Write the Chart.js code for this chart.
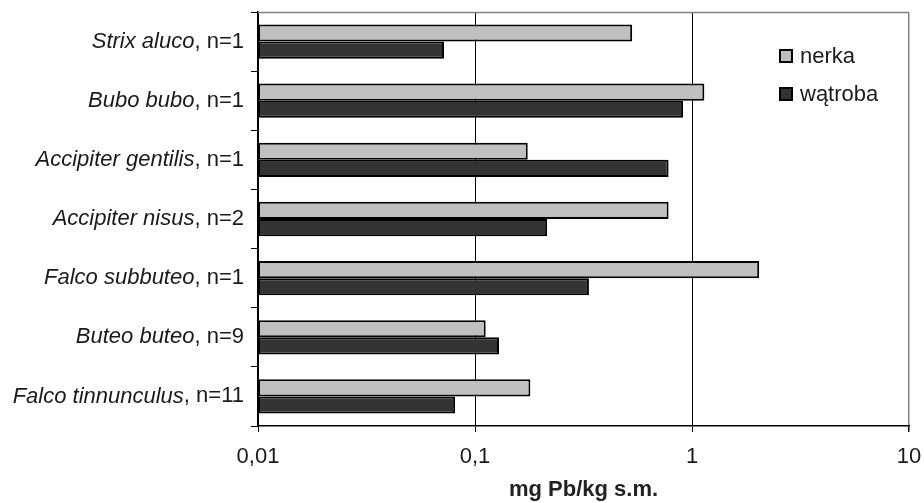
<!DOCTYPE html>
<html>
<head>
<meta charset="utf-8">
<script src="https://cdn.jsdelivr.net/npm/chart.js@4/dist/chart.umd.min.js"></script>
<style>
  html, body { margin: 0; padding: 0; background: #fff; }
  #wrap { width: 924px; height: 503px; }
</style>
</head>
<body>
<div id="wrap"><canvas id="chartPb"></canvas></div>
<script>
const species = ["Strix aluco", "Bubo bubo", "Accipiter gentilis", "Accipiter nisus",
                 "Falco subbuteo", "Buteo buteo", "Falco tinnunculus"];
const sampleSizes = [1, 1, 1, 2, 1, 9, 11];
const nerka = [0.53, 1.14, 0.175, 0.78, 2.04, 0.112, 0.18];
const watroba = [0.072, 0.91, 0.78, 0.215, 0.335, 0.129, 0.081];
const xTicks = [0.01, 0.1, 1, 10];
const seriesNames = ["nerka", "wątroba"];
const seriesColors = ["#c0c0c0", "#333333"];

const fontFamily = "'Liberation Sans', Arial, sans-serif";
const textColor = "#1a1a1a";

// labels with italic species name and plain ", n=.."
const speciesLabels = {
    id: "speciesLabels",
    afterDraw(chart) {
        const ctx = chart.ctx;
        const yScale = chart.scales.y;
        const right = yScale.right - 14;
        ctx.save();
        ctx.fillStyle = textColor;
        ctx.textBaseline = "middle";
        ctx.textAlign = "right";
        species.forEach((name, i) => {
            const y = yScale.getPixelForValue(i);
            const suffix = ", n=" + sampleSizes[i];
            ctx.font = "22px " + fontFamily;
            ctx.fillText(suffix, right, y);
            const w = ctx.measureText(suffix).width;
            ctx.font = "italic 22px " + fontFamily;
            ctx.fillText(name, right - w, y);
        });
        ctx.restore();
    }
};

// top border of plot area and legend inside it
const frameAndLegend = {
    id: "frameAndLegend",
    afterDraw(chart) {
        const ctx = chart.ctx;
        const area = chart.chartArea;
        ctx.save();
        ctx.strokeStyle = "#808080";
        ctx.lineWidth = 1.5;
        ctx.beginPath();
        ctx.moveTo(area.left, area.top + 0.5);
        ctx.lineTo(area.right, area.top + 0.5);
        ctx.stroke();

        ctx.font = "22px " + fontFamily;
        ctx.textBaseline = "middle";
        ctx.textAlign = "left";
        seriesNames.forEach((name, i) => {
            const y = 56 + i * 38;
            ctx.fillStyle = seriesColors[i];
            ctx.fillRect(780, y - 6, 12, 12);
            ctx.strokeStyle = "#000";
            ctx.lineWidth = 2;
            ctx.strokeRect(780, y - 6, 12, 12);
            ctx.fillStyle = textColor;
            ctx.fillText(name, 800, y + 1);
        });
        ctx.restore();
    }
};

new Chart(document.getElementById("chartPb"), {
    type: "bar",
    data: {
        labels: species,
        datasets: [
            {
                label: seriesNames[0],
                data: nerka,
                backgroundColor: seriesColors[0],
                borderColor: "#000",
                borderWidth: 2,
                borderSkipped: false
            },
            {
                label: seriesNames[1],
                data: watroba,
                backgroundColor: seriesColors[1],
                borderColor: "#000",
                borderWidth: 2,
                borderSkipped: false
            }
        ]
    },
    options: {
        indexAxis: "y",
        responsive: true,
        maintainAspectRatio: false,
        animation: false,
        layout: { padding: { top: 12, right: 15, left: 0, bottom: 0 } },
        datasets: { bar: { categoryPercentage: 0.58, barPercentage: 1.0 } },
        plugins: {
            legend: { display: false },
            tooltip: { enabled: false }
        },
        scales: {
            x: {
                type: "logarithmic",
                min: 0.01,
                max: 10,
                afterBuildTicks: (scale) => {
                    scale.ticks = xTicks.map(v => ({ value: v, major: true }));
                },
                afterFit: (scale) => {
                    scale.height = 77;
                    scale.paddingLeft = 0;
                    scale.paddingRight = 0;
                },
                border: { color: "#000", width: 1.5 },
                grid: {
                    color: (c) => (c.tick && c.tick.value === 10 ? "#808080" : "#000"),
                    lineWidth: (c) => (c.tick && c.tick.value === 10 ? 1.5 : 1),
                    tickColor: "#000",
                    tickLength: 6
                },
                ticks: {
                    color: textColor,
                    padding: 12,
                    maxRotation: 0,
                    font: { family: fontFamily, size: 22 },
                    callback: (v) => String(v).replace(".", ",")
                },
                title: {
                    display: true,
                    text: "mg Pb/kg s.m.",
                    color: "#222",
                    padding: { top: 0, bottom: 0 },
                    font: { family: fontFamily, size: 22, weight: "bold" }
                }
            },
            y: {
                afterFit: (scale) => { scale.width = 258; },
                border: { color: "#000", width: 1.5 },
                grid: {
                    offset: true,
                    drawOnChartArea: false,
                    drawTicks: true,
                    tickLength: 7,
                    color: "#000"
                },
                ticks: { display: false }
            }
        }
    },
    plugins: [speciesLabels, frameAndLegend]
});
</script>
</body>
</html>
